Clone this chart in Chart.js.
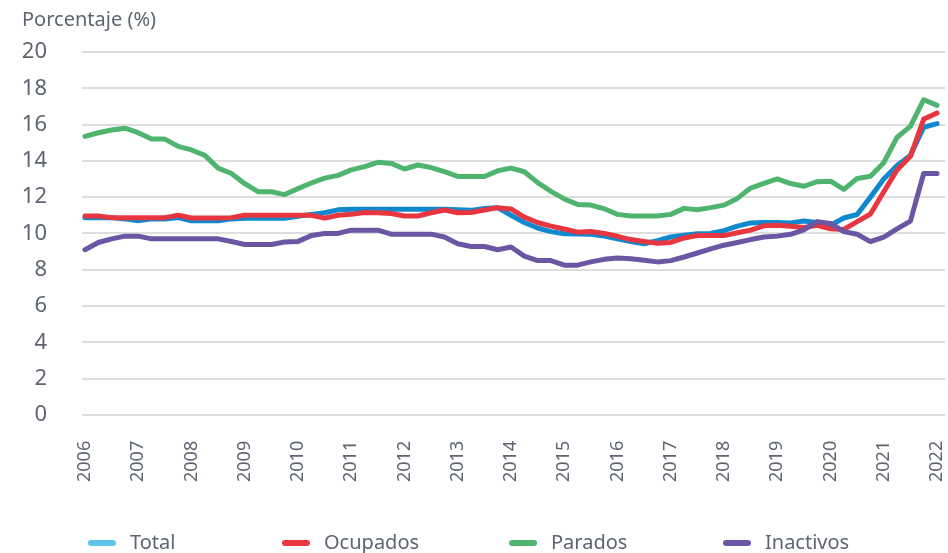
<!DOCTYPE html>
<html>
<head>
<meta charset="utf-8">
<script src="https://cdn.jsdelivr.net/npm/chart.js@4"></script>
<style>
  html, body { margin: 0; padding: 0; background: #fff; }
  #wrap { width: 948px; height: 553px; }
</style>
</head>
<body>
<div id="wrap"><canvas id="chart"></canvas></div>
<script>
// trimestres 2006T1 - 2022T1
var years = ["2006", "2007", "2008", "2009", "2010", "2011", "2012", "2013", "2014",
             "2015", "2016", "2017", "2018", "2019", "2020", "2021", "2022"];

var total = [10.87, 10.87, 10.87, 10.8, 10.7, 10.8, 10.8, 10.87, 10.7, 10.7, 10.7, 10.8,
             10.84, 10.84, 10.84, 10.84, 10.95, 11.05, 11.14, 11.3, 11.33, 11.33, 11.33, 11.33,
             11.33, 11.33, 11.33, 11.33, 11.3, 11.27, 11.38, 11.42, 11.0, 10.6, 10.3, 10.1,
             9.98, 9.97, 9.95, 9.85, 9.7, 9.55, 9.43, 9.6, 9.8, 9.9, 9.98, 10.0,
             10.15, 10.4, 10.58, 10.6, 10.6, 10.58, 10.68, 10.6, 10.45, 10.85, 11.04, 12.0,
             13.0, 13.75, 14.3, 15.85, 16.05];

var ocupados = [10.96, 10.96, 10.87, 10.87, 10.87, 10.87, 10.87, 11.0, 10.85, 10.85, 10.85, 10.87,
                11.0, 11.0, 11.0, 11.0, 11.0, 11.0, 10.84, 11.0, 11.05, 11.15, 11.14, 11.1,
                10.96, 10.96, 11.14, 11.29, 11.14, 11.15, 11.29, 11.42, 11.35, 10.9, 10.6, 10.4,
                10.24, 10.07, 10.1, 10.0, 9.84, 9.66, 9.55, 9.46, 9.5, 9.75, 9.88, 9.88,
                9.88, 10.04, 10.18, 10.42, 10.45, 10.4, 10.33, 10.45, 10.25, 10.22, 10.65, 11.07,
                12.3, 13.5, 14.25, 16.3, 16.64];

var parados = [15.35, 15.55, 15.7, 15.8, 15.55, 15.2, 15.2, 14.8, 14.6, 14.3, 13.6, 13.3,
               12.74, 12.3, 12.3, 12.14, 12.47, 12.78, 13.05, 13.2, 13.5, 13.68, 13.92, 13.86,
               13.55, 13.77, 13.63, 13.4, 13.14, 13.14, 13.14, 13.45, 13.6, 13.4, 12.8, 12.32,
               11.9, 11.6, 11.56, 11.36, 11.05, 10.96, 10.96, 10.96, 11.05, 11.38, 11.3, 11.42,
               11.56, 11.93, 12.5, 12.76, 13.0, 12.75, 12.6, 12.85, 12.88, 12.43, 13.03, 13.15,
               13.9, 15.3, 15.9, 17.37, 17.06];

var inactivos = [9.1, 9.5, 9.7, 9.85, 9.85, 9.7, 9.7, 9.7, 9.7, 9.7, 9.7, 9.55,
                 9.39, 9.39, 9.39, 9.53, 9.56, 9.88, 10.0, 10.0, 10.18, 10.18, 10.18, 9.96,
                 9.96, 9.96, 9.96, 9.8, 9.43, 9.28, 9.28, 9.1, 9.25, 8.75, 8.5, 8.5,
                 8.25, 8.25, 8.43, 8.57, 8.65, 8.6, 8.52, 8.43, 8.5, 8.7, 8.92, 9.15,
                 9.35, 9.5, 9.66, 9.8, 9.85, 9.95, 10.2, 10.65, 10.55, 10.1, 9.95, 9.55,
                 9.8, 10.25, 10.68, 13.3, 13.3];

var yTicks = [0, 2, 4, 6, 8, 10, 12, 14, 16, 18, 20];

var textColor = "#5e6570";
var fontFamily = "Noto Sans";

function toPoints(arr) {
    return arr.map(function (v, i) { return {x: i, y: v}; });
}

function serie(label, arr, color, legendColor, order) {
    return {
        label: label,
        data: toPoints(arr),
        borderColor: color,
        backgroundColor: legendColor,
        borderWidth: 5,
        pointRadius: 0,
        tension: 0,
        borderJoinStyle: "round",
        borderCapStyle: "round",
        order: order
    };
}

// leyenda dibujada a mano, el espaciado del original no es uniforme
var legendPlugin = {
    id: "bottomLegend",
    afterDraw: function (chart) {
        var ctx = chart.ctx;
        var starts = [88, 282, 509, 723];
        var y = 543;
        ctx.save();
        ctx.font = "20px " + fontFamily;
        ctx.textBaseline = "middle";
        ctx.textAlign = "left";
        chart.data.datasets.forEach(function (ds, i) {
            var x = starts[i];
            ctx.strokeStyle = ds.backgroundColor;
            ctx.lineWidth = 6;
            ctx.lineCap = "round";
            ctx.beginPath();
            ctx.moveTo(x + 3, y);
            ctx.lineTo(x + 25, y);
            ctx.stroke();
            ctx.fillStyle = textColor;
            ctx.fillText(ds.label, x + 42, y);
        });
        ctx.restore();
    }
};

new Chart(document.getElementById("chart"), {
    type: "line",
    data: {
        datasets: [
            serie("Total", total, "#0f88cd", "#5ec4ee", 4),
            serie("Ocupados", ocupados, "#e7363f", "#e7363f", 3),
            serie("Parados", parados, "#4fb56e", "#4fb56e", 2),
            serie("Inactivos", inactivos, "#6b56a3", "#6b56a3", 1)
        ]
    },
    plugins: [legendPlugin],
    options: {
        responsive: true,
        maintainAspectRatio: false,
        animation: false,
        layout: {padding: {left: 22, right: 3, top: 8, bottom: 53}},
        plugins: {
            tooltip: {enabled: false},
            legend: {display: false},
            title: {
                display: true,
                text: "Porcentaje (%)",
                align: "start",
                color: textColor,
                font: {family: fontFamily, size: 20, weight: "normal"},
                padding: {top: 0, bottom: 20}
            }
        },
        scales: {
            x: {
                type: "linear",
                min: -0.225,
                max: 64.6,
                grid: {display: false},
                border: {display: false},
                afterFit: function (scale) {
                    scale.paddingLeft = 0;
                    scale.paddingRight = 0;
                },
                ticks: {
                    stepSize: 4,
                    includeBounds: false,
                    autoSkip: false,
                    maxRotation: 90,
                    minRotation: 90,
                    padding: 18,
                    color: textColor,
                    font: {family: fontFamily, size: 18},
                    callback: function (value) {
                        return years[value / 4];
                    }
                }
            },
            y: {
                min: 0,
                max: 20,
                afterBuildTicks: function (scale) {
                    scale.ticks = yTicks.map(function (v) { return {value: v}; });
                },
                afterFit: function (scale) {
                    scale.width = 60;
                },
                grid: {color: "#dedede", lineWidth: 2, drawTicks: false},
                border: {display: false},
                ticks: {
                    autoSkip: false,
                    padding: 35,
                    color: textColor,
                    font: {family: fontFamily, size: 22}
                }
            }
        }
    }
});
</script>
</body>
</html>
